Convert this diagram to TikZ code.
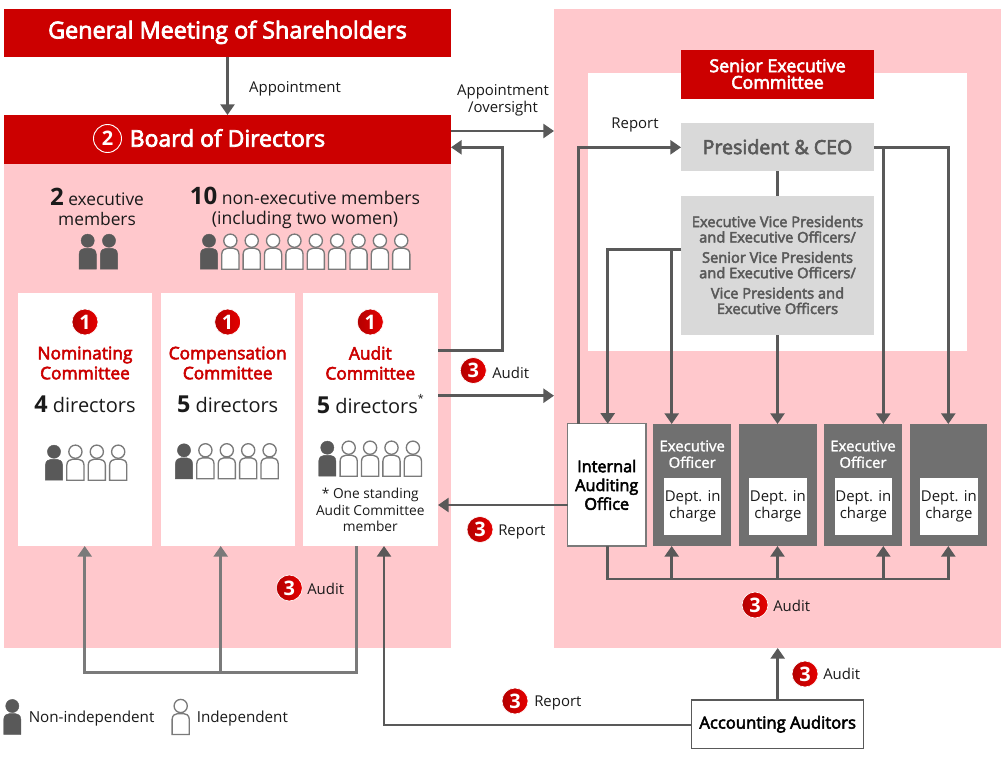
\documentclass[tikz,border=0pt]{standalone}
\usepackage{fontspec}
\setmainfont{Open Sans}
\newfontfamily\semib[FakeBold=3.2]{Open Sans}
\newfontfamily\medi[FakeBold=1.6]{Open Sans}
\usetikzlibrary{arrows.meta,calc}
\definecolor{cred}{HTML}{CC0000}
\definecolor{cpink}{HTML}{FFC8CC}
\definecolor{cline}{HTML}{595959}
\definecolor{clight}{HTML}{7A7A7A}
\definecolor{cdark}{HTML}{707070}
\definecolor{cgray}{HTML}{D9D9D9}
\definecolor{ctext}{HTML}{1A1A1A}
\newcommand\fs[2]{\fontsize{#1}{#2}\selectfont}
\newcommand\bx[7]{%
  \pgfmathsetmacro\cxx{(#2+#4)/2}\pgfmathsetmacro\cyy{(#3+#5)/2}%
  \pgfmathsetmacro\ww{(#4-#2)*0.75}\pgfmathsetmacro\hh{(#5-#3)*0.75}%
  \node[#6,minimum width=\ww pt,minimum height=\hh pt,inner sep=0pt,outer sep=0pt,align=center] (#1) at (\cxx,\cyy) {#7};}
\newcommand\person[3]{%
  \pgfmathsetmacro\xl{#2-8.6}\pgfmathsetmacro\xr{#2+8.6}\pgfmathsetmacro\tp{#3+7.6}\pgfmathsetmacro\bt{#3+28.5}%
  \pgfmathsetmacro\xa{#2-3}\pgfmathsetmacro\xb{#2+3}\pgfmathsetmacro\ta{#3+13.5}%
  \pgfmathsetmacro\tc{#3+9}%
  \draw[#1] (\xl,\bt) -- (\xl,\ta) .. controls (\xl,\tc) and (\xa-2,\tp) .. (\xa,\tp) -- (\xb,\tp)
     .. controls (\xb+2,\tp) and (\xr,\tc) .. (\xr,\ta) -- (\xr,\bt) -- cycle;
  \draw[#1] (#2,#3) circle[radius=6.6];}
\tikzset{
  x=0.75pt,y=-0.75pt,
  panel/.style={fill=cpink,draw=none},
  redbox/.style={fill=cred,draw=none,text=white},
  whitebox/.style={fill=white,draw=none},
  graybox/.style={fill=cgray,draw=none,text=cline},
  darkbox/.style={fill=cdark,draw=none,text=white},
  deptbox/.style={fill=white,draw=none,text=ctext,font=\fs{11.2}{10.4}},
  conn/.style={draw=cline,line width=1.9pt},
  connA/.style={conn,-{Triangle[length=8pt,width=10.5pt]}},
  lconn/.style={draw=clight,line width=1.9pt},
  lconnA/.style={lconn,-{Triangle[length=8pt,width=10.5pt]}},
  label/.style={text=ctext,font=\fs{11.2}{13},inner sep=0pt,align=center},
  badge/.style={circle,minimum size=19.5pt,inner sep=0pt,left color=cred!88!black,right color=red!90!black,draw=white,line width=.5pt,text=white,font=\bfseries\fs{15}{15}},
  pd/.style={fill=cline,draw=cline,line width=.3pt},
  pw/.style={fill=white,draw=clight,line width=1pt},
  ctitle/.style={text=cred,font=\semib\fs{13}{15},align=center,inner sep=0pt},
  cnum/.style={text=ctext,font=\fs{15}{18},inner sep=0pt},
}
\begin{document}
\begin{tikzpicture}
\useasboundingbox (0,0) rectangle (1008,757);
\fill[white] (0,0) rectangle (1008,757);
% panels
\bx{lpanel}{4}{164}{451}{648}{panel}{}
\bx{rpanel}{554}{9}{1001}{648}{panel}{}
\bx{wpanel}{588}{73}{967}{351}{whitebox}{}
% red boxes
\bx{gm}{4}{8.5}{451}{57}{redbox}{}
\node[text=white,font=\semib\fs{17.5}{20},inner sep=0pt] (gmt) at (227.5,32.3) {General Meeting of Shareholders};
\bx{board}{4}{115}{451}{164}{redbox}{}
\node[circle,minimum size=21pt,inner sep=0pt,draw=white,line width=.7pt,left color=cred,right color=red!88!black,text=white,font=\bfseries\fs{15}{15}] (b2) at (107.5,138.5) {2};
\node[text=white,font=\semib\fs{17.2}{20},anchor=west,inner sep=0pt] (bt) at (129.5,138) {Board of Directors};
\bx{sec}{681}{50}{874}{99}{redbox}{}
\node[text=white,font=\semib\fs{13.4}{12.4},align=center,inner sep=0pt] (sect) at (777.5,74) {Senior Executive\\Committee};
\bx{pres}{681}{123}{874}{171}{graybox}{}
\node[text=cline,font=\semib\fs{14.7}{18},inner sep=0pt] (prest) at (777.5,146.8) {President \& CEO};
\bx{evp}{681}{196}{874}{335}{graybox}{}
\node[text=cline,font=\semib\fs{11}{11.6},align=center,inner sep=0pt] (evpt) at (777.5,265) {Executive Vice Presidents\\and Executive Officers/\\[3.6pt]Senior Vice Presidents\\and Executive Officers/\\[3.6pt]Vice Presidents and\\Executive Officers};
% committees
\bx{nom}{18}{293.3}{152}{546}{whitebox}{}
\bx{comp}{160.7}{293.3}{295}{546}{whitebox}{}
\bx{audit}{303.3}{293.3}{438}{546}{whitebox}{}
\node[badge] (bn1) at (85,322) {1};
\node[badge] (bn2) at (227.7,322) {1};
\node[badge] (bn3) at (370.3,322) {1};
\node[ctitle] (tn) at (85,363) {Nominating\\Committee};
\node[ctitle] (tc) at (227.7,363) {Compensation\\Committee};
\node[ctitle] (ta) at (370.3,363) {Audit\\Committee};
\node[cnum] (n1) at (85,404) {\textbf{\fs{17.5}{18}4} directors};
\node[cnum] (n2) at (227.7,404) {\textbf{\fs{17.5}{18}5} directors};
\node[cnum] (n3) at (370.3,404) {\textbf{\fs{17.5}{18}5} directors\raisebox{1.1ex}{\fs{8}{8}*}};
\node[label,font=\fs{10.3}{12.6}] (fn) at (370.3,510) {* One standing\\Audit Committee\\member};
% member counts
\node[label,font=\fs{13}{15}] (ex) at (97,207) {\textbf{\fs{18}{15}2} executive\\members};
\node[label,font=\fs{13.2}{15}] (ne) at (305,207.7) {\textbf{\fs{18}{15}10} non-executive members\\(including two women)};
% people
\person{pd}{87.7}{240.7}\person{pd}{109}{240.7}
\person{pd}{209}{240.7}
\foreach \i in {1,...,9}{\pgfmathsetmacro\px{209+21.36*\i}\person{pw}{\px}{240.7}}
\person{pd}{54}{451.7}
\foreach \i in {1,2,3}{\pgfmathsetmacro\px{54+21.4*\i}\person{pw}{\px}{451.7}}
\person{pd}{184}{450.3}
\foreach \i in {1,...,4}{\pgfmathsetmacro\px{184+21.4*\i}\person{pw}{\px}{450.3}}
\person{pd}{327.3}{447.7}
\foreach \i in {1,...,4}{\pgfmathsetmacro\px{327.3+21.4*\i}\person{pw}{\px}{447.7}}
\person{pd}{12.3}{706}
\person{pw}{180.7}{706}
\node[label,anchor=west,font=\fs{11.4}{13}] (ln) at (28.5,719) {Non-independent};
\node[label,anchor=west,font=\fs{11.4}{13}] (li) at (196.5,719) {Independent};
% bottom row
\bx{iao}{567.5}{423.8}{646}{546}{fill=white,draw=clight,line width=1pt,text=black,font=\semib\fs{12.2}{14.1}}{Internal\\Auditing\\Office}
\bx{d1}{653.3}{424}{731}{546}{darkbox}{}
\bx{d2}{739}{424}{816.5}{546}{darkbox}{}
\bx{d3}{824}{424}{902}{546}{darkbox}{}
\bx{d4}{909.5}{424}{987}{546}{darkbox}{}
\node[text=white,font=\medi\fs{11.2}{12.4},align=center,inner sep=0pt] (e1) at (692.2,454.2) {Executive\\Officer};
\node[text=white,font=\medi\fs{11.2}{12.4},align=center,inner sep=0pt] (e3) at (863,454.2) {Executive\\Officer};
\bx{i1}{664}{477.7}{721.3}{534.7}{deptbox}{Dept. in\\charge}
\bx{i2}{749}{477.7}{806.7}{534.7}{deptbox}{Dept. in\\charge}
\bx{i3}{834.7}{477.7}{892}{534.7}{deptbox}{Dept. in\\charge}
\bx{i4}{920}{477.7}{977.7}{534.7}{deptbox}{Dept. in\\charge}
\bx{aa}{691.7}{700}{863.7}{748.5}{fill=white,draw=cline,line width=1.1pt,text=black,font=\semib\fs{12.5}{15}}{Accounting Auditors}
% coordinates
\coordinate (yApp) at (0,131);
\coordinate (rt1) at (502.7,350.7);
\coordinate (rt2) at (502.7,147.3);
\coordinate (yAud) at (0,395.7);
\coordinate (yRep) at (0,505);
\coordinate (xL) at (578.3,147.3);
\coordinate (tl1) at (607.7,249.3);
\coordinate (tl2) at (671.7,249.3);
\coordinate (tr1) at (883.3,147.3);
\coordinate (tr2) at (948.3,147.3);
\coordinate (bl) at (607.7,579);
\coordinate (br) at (948.3,579);
\coordinate (yAA) at (384,725);
\coordinate (lb1) at (84.7,672.3);
\coordinate (lb2) at (220.7,672.3);
\coordinate (lb3) at (356.3,672.3);
% connectors
\draw[connA] (gm.south) -- (board.north);
\draw[connA] (board.east |- yApp) -- (rpanel.west |- yApp);
\draw[connA] (audit.east |- rt1) -- (rt1) -- (rt2) -- (board.east |- rt2);
\draw[connA] (audit.east |- yAud) -- (rpanel.west |- yAud);
\draw[connA] (iao.west |- yRep) -- (audit.east |- yRep);
\draw[connA] (iao.north -| xL) -- (xL) -- (pres.west |- xL);
\draw[conn] (pres.south) -- (evp.north);
\draw[connA] (evp.south) -- (evp.south |- d2.north);
\draw[connA] (evp.west |- tl1) -- (tl1) -- (tl1 |- iao.north);
\draw[connA] (tl2) -- (tl2 |- d1.north);
\draw[connA] (pres.east |- tr2) -- (tr2) -- (tr2 |- d4.north);
\draw[connA] (tr1) -- (tr1 |- d3.north);
\draw[connA] (bl |- iao.south) -- (bl) -- (br) -- (br |- d4.south);
\draw[connA] (tl2 |- bl) -- (tl2 |- d1.south);
\draw[connA] (evp.south |- bl) -- (evp.south |- d2.south);
\draw[connA] (tr1 |- bl) -- (tr1 |- d3.south);
\draw[connA] (aa.north) -- (aa.north |- rpanel.south);
\draw[connA] (aa.west |- yAA) -- (yAA) -- (yAA |- audit.south);
\draw[lconnA] (lb3 |- audit.south) -- (lb3) -- (lb1) -- (lb1 |- nom.south);
\draw[lconnA] (lb2) -- (lb2 |- comp.south);
% labels
\node[label] (l1) at (295,89) {Appointment};
\node[label,font=\fs{11.2}{12.8}] (l2) at (503,100.5) {Appointment\\/oversight};
\node[label] (l3) at (635,125) {Report};
\node[badge] (b31) at (473.3,370.5) {3};
\node[label,anchor=west] (l4) at (492,373) {Audit};
\node[badge] (b32) at (480,529.5) {3};
\node[label,anchor=west] (l5) at (498,532) {Report};
\node[badge] (b33) at (289.3,588) {3};
\node[label,anchor=west] (l6) at (307,589) {Audit};
\node[badge] (b34) at (755,605) {3};
\node[label,anchor=west] (l7) at (773,605.5) {Audit};
\node[badge] (b35) at (805,674) {3};
\node[label,anchor=west] (l8) at (823,674) {Audit};
\node[badge] (b36) at (515,701) {3};
\node[label,anchor=west] (l9) at (534,703) {Report};
\end{tikzpicture}
\end{document}
